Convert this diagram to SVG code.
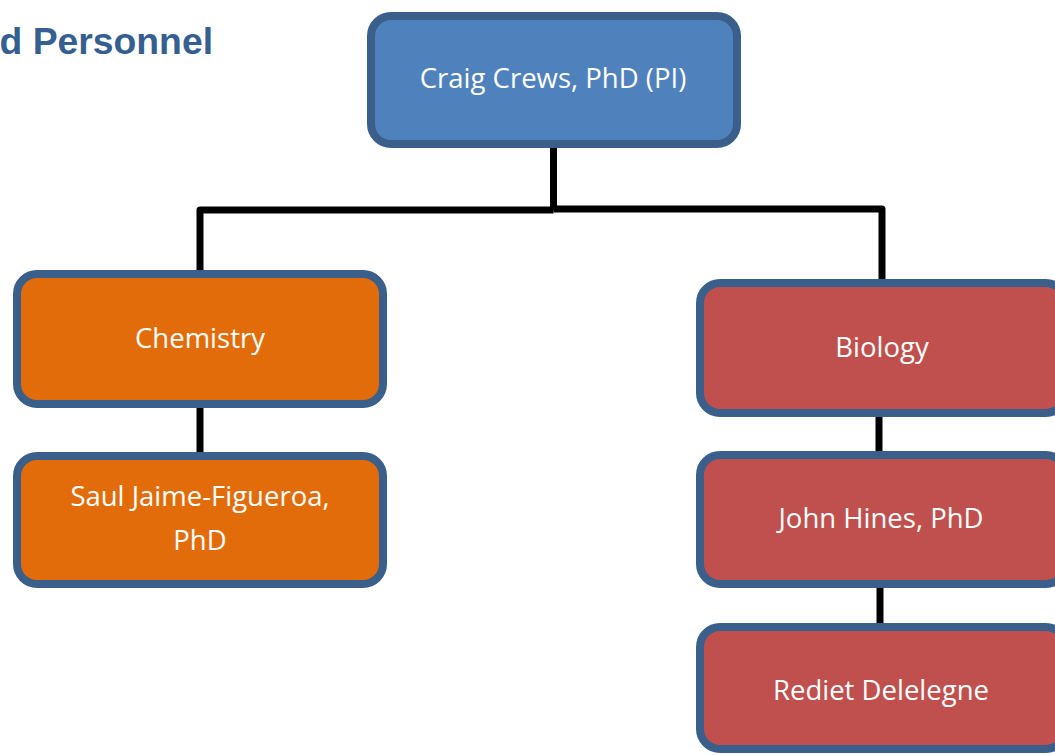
<svg xmlns="http://www.w3.org/2000/svg" width="1055" height="755" viewBox="0 0 1055 755">
<style>
.box{stroke:#3A5F8B;stroke-width:8}
.pi{fill:#4F81BD}
.chem{fill:#E36C0A}
.bio{fill:#C0504D}
.lbl{font-family:"Open Sans","Noto Sans",sans-serif;font-size:27.5px;fill:#FFFFFF;text-anchor:middle}
.conn{fill:none;stroke:#000000;stroke-width:7;stroke-linejoin:round}
.title{font-family:"Liberation Sans",Arial,sans-serif;font-weight:bold;font-size:37.3px;fill:#365F91;text-anchor:end}
</style>
<rect width="1055" height="755" fill="#FFFFFF"/>
<text class="title" x="213" y="54">d Personnel</text>
<g id="connectors">
<path class="conn" d="M553.5 148 V210 M553.5 210 H200 V273"/>
<path class="conn" d="M553.5 209 H882 V283"/>
<path class="conn" d="M200 404 V455"/>
<path class="conn" d="M879 413 V455"/>
<path class="conn" d="M880 585 V627"/>
</g>
<g id="pi">
<rect class="box pi" x="371" y="16" width="366" height="128" rx="20"/>
<text class="lbl" x="553" y="88">Craig Crews, PhD (PI)</text>
</g>
<g id="chemistry">
<rect class="box chem" x="17" y="274" width="366" height="130" rx="20"/>
<text class="lbl" x="200" y="348">Chemistry</text>
</g>
<g id="saul">
<rect class="box chem" x="17" y="456" width="366" height="128" rx="20"/>
<text class="lbl" x="200" y="506">Saul Jaime-Figueroa,</text>
<text class="lbl" x="200" y="550">PhD</text>
</g>
<g id="biology">
<rect class="box bio" x="700" y="283" width="366" height="130" rx="20"/>
<text class="lbl" x="882" y="357">Biology</text>
</g>
<g id="john">
<rect class="box bio" x="700" y="455" width="366" height="129" rx="20"/>
<text class="lbl" x="881" y="528">John Hines, PhD</text>
</g>
<g id="rediet">
<rect class="box bio" x="700" y="627" width="366" height="122" rx="20"/>
<text class="lbl" x="881" y="700">Rediet Delelegne</text>
</g>
</svg>
